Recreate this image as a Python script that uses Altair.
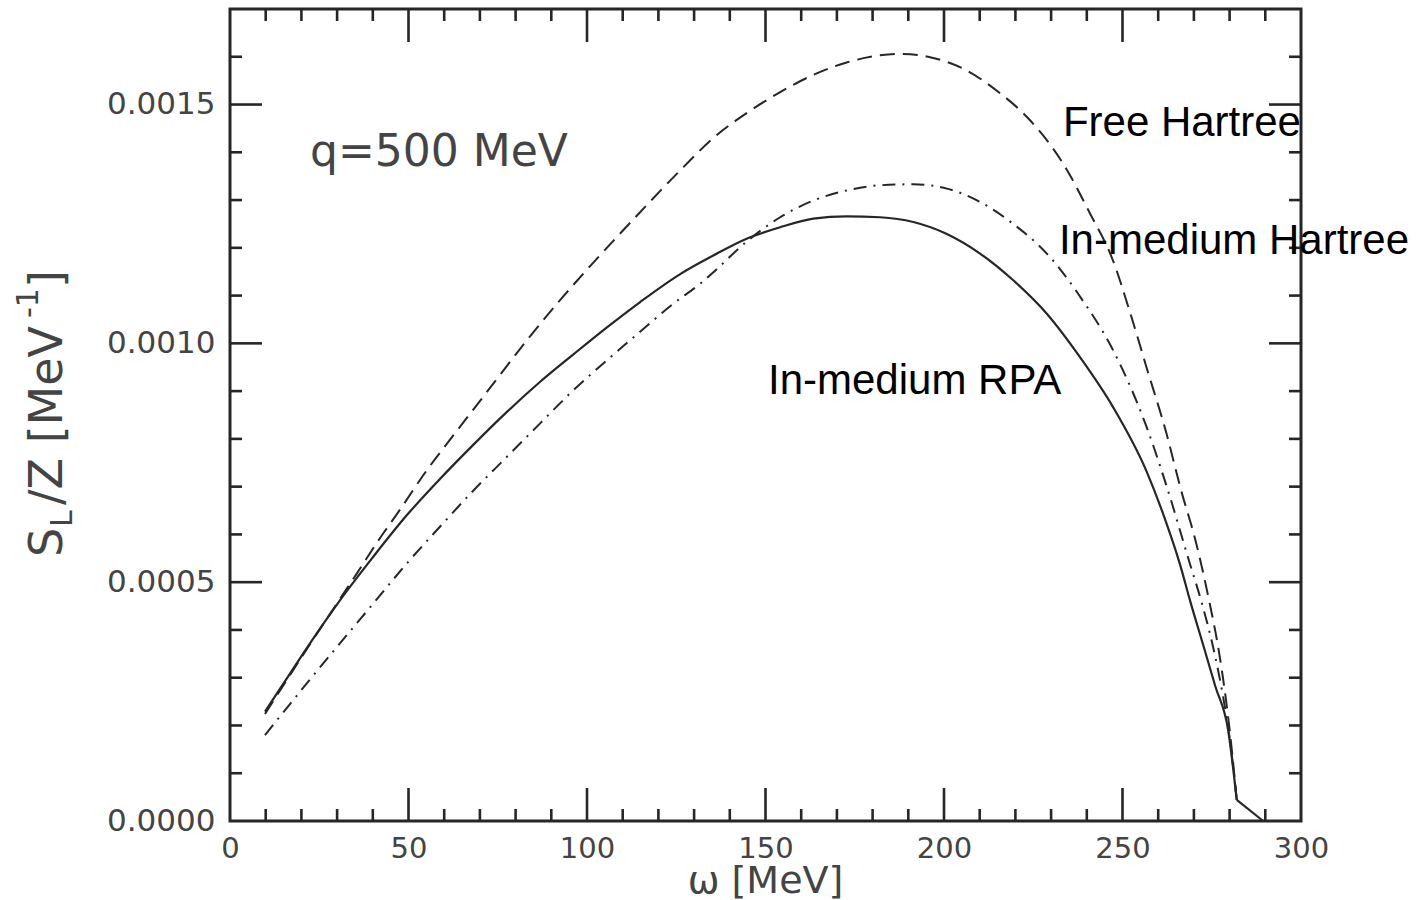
import altair as alt
import pandas as pd

# Longitudinal response S_L/Z [MeV^-1] versus energy transfer omega [MeV], q = 500 MeV
rpa_omega = [9.8, 15.0, 22.4, 30.8, 40.1, 49.5, 58.8, 68.2, 77.5, 86.8, 96.2, 105.5,
             114.8, 126.1, 135.4, 144.7, 154.1, 163.4, 172.7, 182.1, 191.4, 200.8,
             210.1, 219.4, 228.8, 238.1, 247.4, 256.8, 262.0, 266.0, 268.9, 272.5,
             276.0, 279.6, 282.0, 289.4]
rpa_s = [2.29e-4, 2.88e-4, 3.72e-4, 4.62e-4, 5.53e-4, 6.40e-4, 7.16e-4, 7.88e-4,
         8.56e-4, 9.19e-4, 9.77e-4, 10.33e-4, 10.86e-4, 11.45e-4, 11.84e-4, 12.19e-4,
         12.43e-4, 12.61e-4, 12.66e-4, 12.64e-4, 12.54e-4, 12.29e-4, 11.88e-4,
         11.32e-4, 10.62e-4, 9.71e-4, 8.66e-4, 7.31e-4, 6.30e-4, 5.40e-4, 4.62e-4,
         3.71e-4, 2.82e-4, 1.90e-4, 0.44e-4, 0.0]

free_omega = [9.8, 22.4, 30.8, 35.5, 42.9, 46.7, 55.1, 64.4, 73.8, 83.1, 92.4, 103.6,
              114.8, 127.0, 135.4, 144.7, 154.1, 163.4, 172.7, 182.1, 187.7, 196.1,
              205.4, 214.8, 224.1, 233.4, 240.9, 247.3, 252.1, 256.8, 262.4, 266.1,
              270.8, 274.3, 277.0, 279.0, 280.1, 282.0, 289.4]
free_s = [2.24e-4, 3.70e-4, 4.65e-4, 5.18e-4, 6.02e-4, 6.42e-4, 7.34e-4, 8.25e-4,
          9.16e-4, 10.06e-4, 10.90e-4, 11.84e-4, 12.74e-4, 13.69e-4, 14.30e-4,
          14.82e-4, 15.26e-4, 15.62e-4, 15.88e-4, 16.03e-4, 16.06e-4, 15.99e-4,
          15.75e-4, 15.29e-4, 14.67e-4, 13.76e-4, 12.72e-4, 11.74e-4, 10.65e-4,
          9.48e-4, 8.09e-4, 7.01e-4, 5.77e-4, 4.60e-4, 3.55e-4, 2.53e-4, 1.85e-4,
          0.44e-4, 0.0]

med_omega = [9.8, 21.5, 30.8, 40.1, 49.5, 58.8, 68.2, 77.5, 86.8, 96.2, 105.5, 114.8,
             124.2, 131.7, 135.4, 144.7, 154.1, 163.4, 172.7, 182.1, 191.4, 200.8,
             210.1, 219.4, 228.8, 238.1, 247.4, 256.8, 262.4, 268.9, 272.0, 275.5,
             278.3, 279.8, 282.0, 289.4]
med_s = [1.80e-4, 2.88e-4, 3.72e-4, 4.55e-4, 5.39e-4, 6.16e-4, 6.92e-4, 7.62e-4,
         8.32e-4, 9.02e-4, 9.64e-4, 10.24e-4, 10.83e-4, 11.25e-4, 11.49e-4, 12.13e-4,
         12.64e-4, 12.99e-4, 13.20e-4, 13.31e-4, 13.33e-4, 13.24e-4, 12.96e-4,
         12.50e-4, 11.88e-4, 10.98e-4, 9.85e-4, 8.24e-4, 7.00e-4, 5.38e-4, 4.62e-4,
         3.60e-4, 2.55e-4, 1.85e-4, 0.44e-4, 0.0]

# Curve labels: text, omega of left edge, S at baseline
label_text = ["Free Hartree", "In-medium Hartree", "In-medium RPA"]
label_omega = [233.3, 232.2, 150.7]
label_s = [14.35e-4, 11.88e-4, 8.93e-4]

panel_text = ["q=500 MeV"]
panel_omega = [22.4]
panel_s = [13.72e-4]

# Axis ticks
x_major = [0, 50, 100, 150, 200, 250, 300]
x_minor = [v for v in range(10, 300, 10) if v % 50]
y_major = [0.0, 0.0005, 0.0010, 0.0015]
y_minor = [i / 10000 for i in range(1, 17) if i % 5]

# all three responses share the threshold kink and end point
KINK = 282.0

W, H = 1071, 812
INK = "#262626"
GREY = "#444444"
HERSHEY = "DejaVu Sans"

xs = alt.Scale(domain=[0, 300], nice=False, zero=False)
ys = alt.Scale(domain=[0, 0.0017], nice=False, zero=False)

x_axis = alt.Axis(values=x_major, format="d", labelFont=HERSHEY, labelFontSize=29,
                  labelColor=GREY, labelPadding=13, labelFlush=False, ticks=False,
                  tickSize=0, domain=False, grid=False, labelOverlap=False,
                  title="ω [MeV]", titleFont=HERSHEY, titleFontSize=38,
                  titleFontWeight="normal", titleColor=GREY, titleX=535, titleY=71,
                  titleBaseline="alphabetic", titleAlign="center")
y_axis = alt.Axis(values=y_major, format=".4f", labelFont=HERSHEY, labelFontSize=31,
                  labelColor=GREY, labelPadding=15, labelFlush=False, ticks=False,
                  tickSize=0, domain=False, grid=False, labelOverlap=False, title="")


def X(field):
    return alt.X(field, scale=xs, axis=x_axis)


def Y(field):
    return alt.Y(field, scale=ys, axis=y_axis)


def curve(omega, s, **style):
    df = pd.DataFrame({"omega": omega, "S": s})
    df = df[df["omega"] <= KINK]
    return alt.Chart(df).mark_line(color=INK, interpolate="monotone", **style).encode(
        x=X("omega:Q"), y=Y("S:Q"))


def tail(omega, s):
    # straight run from the kink down to the end point
    df = pd.DataFrame({"omega": omega, "S": s})
    df = df[df["omega"] >= KINK]
    return alt.Chart(df).mark_line(color=INK, strokeWidth=2.2).encode(
        x=X("omega:Q"), y=Y("S:Q"))


def x_ticks(vals, length):
    df = pd.DataFrame({"v": vals})
    base = alt.Chart(df).mark_rule(color=INK, strokeWidth=2.6)
    bottom = base.encode(x=X("v:Q"), y=alt.value(H), y2=alt.value(H - length))
    top = base.encode(x=X("v:Q"), y=alt.value(0), y2=alt.value(length))
    return [bottom, top]


def y_ticks(vals, length):
    df = pd.DataFrame({"v": vals})
    base = alt.Chart(df).mark_rule(color=INK, strokeWidth=2.6)
    left = base.encode(y=Y("v:Q"), x=alt.value(0), x2=alt.value(length))
    right = base.encode(y=Y("v:Q"), x=alt.value(W), x2=alt.value(W - length))
    return [left, right]


def text_at(text, omega, s, font, size, color):
    df = pd.DataFrame({"t": text, "omega": omega, "S": s})
    return alt.Chart(df).mark_text(font=font, fontSize=size, color=color, align="left",
                                   baseline="alphabetic").encode(
        x=X("omega:Q"), y=Y("S:Q"), text="t:N")


def title_piece(text, px, py, size):
    # rotated fragment of the vertical axis title, reading upward from (px, py)
    df = pd.DataFrame({"t": [text]})
    return alt.Chart(df).mark_text(font=HERSHEY, fontSize=size, color=GREY, angle=270,
                                   align="left", baseline="alphabetic").encode(
        text="t:N", x=alt.value(px), y=alt.value(py))


layers = [
    curve(rpa_omega, rpa_s, strokeWidth=2.2),
    curve(free_omega, free_s, strokeWidth=2.0, strokeDash=[15, 8]),
    curve(med_omega, med_s, strokeWidth=2.0, strokeDash=[13, 7, 2, 7]),
    tail(rpa_omega, rpa_s),
]
layers += x_ticks(x_major[1:-1], 33) + x_ticks(x_minor, 12)
layers += y_ticks(y_major[1:], 32) + y_ticks(y_minor, 12)
layers += [
    text_at(label_text, label_omega, label_s, "Liberation Sans", 42, "#000000"),
    text_at(panel_text, panel_omega, panel_s, HERSHEY, 44, GREY),
    title_piece("S", -168, 548, 46),
    title_piece("L", -158, 518, 30),
    title_piece("/Z [MeV", -168, 496, 46),
    title_piece("-1", -192, 309, 30),
    title_piece("]", -168, 279, 46),
]

chart = alt.layer(*layers).properties(
    width=W,
    height=H,
    padding={"left": 230, "top": 9, "right": 121, "bottom": 79},
    autosize=alt.AutoSizeParams(type="none"),
    background="white",
).configure_view(stroke=INK, strokeWidth=3)

chart.save("out.html", embed_options={"renderer": "svg", "actions": False})
